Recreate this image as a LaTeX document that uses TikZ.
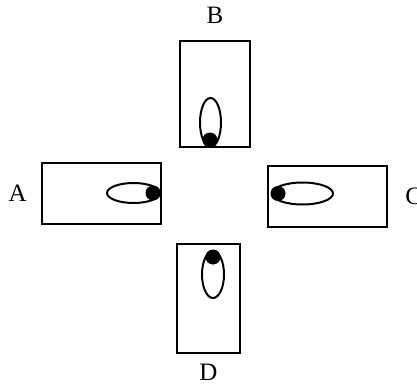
\documentclass[tikz,border=0pt]{standalone}
\usepackage{fontspec}
\setmainfont{Liberation Serif}
\usetikzlibrary{positioning,shapes.geometric}
\tikzset{
  box/.style={draw, line width=1pt, rectangle, inner sep=0pt},
  orbit/.style={draw, line width=1pt, ellipse, inner sep=0pt},
  ball/.style={fill, circle, inner sep=0pt, minimum size=7.5pt},
  tag/.style={inner sep=0pt, font=\fontsize{12.5}{14}\selectfont}
}
\begin{document}
\begin{tikzpicture}[x=0.5pt, y=-0.5pt]
  \useasboundingbox (0,0) rectangle (417,385);
  % the four boxes
  \node[box, minimum width=59.5pt, minimum height=30.5pt] (boxA) at (101.5,193.5) {};
  \node[box, minimum width=35pt, minimum height=53pt] (boxB) at (215,94) {};
  \node[box, minimum width=59.5pt, minimum height=30.5pt] (boxC) at (327.5,196.5) {};
  \node[box, minimum width=31.5pt, minimum height=54.5pt] (boxD) at (208.5,298.5) {};
  % labels
  \node[tag, left=7pt of boxA] (labA) {A};
  \node[tag, above=8pt of boxB] (labB) {B};
  \node[tag, right=8.5pt of boxC] (labC) {C};
  \node[tag, below=4.8pt of boxD] (labD) {D};
  % ellipses with their balls
  \node[orbit, minimum width=26.5pt, minimum height=10pt] (ellA) at (133.5,193) {};
  \node[ball] (ballA) at (153,193) {};
  \node[orbit, minimum width=10.5pt, minimum height=24.5pt] (ellB) at (210.5,122.5) {};
  \node[ball] (ballB) at (210,140) {};
  \node[orbit, minimum width=30.5pt, minimum height=11pt] (ellC) at (302.5,193.5) {};
  \node[ball] (ballC) at (278,193.5) {};
  \node[orbit, minimum width=11pt, minimum height=23.5pt] (ellD) at (213,274.5) {};
  \node[ball] (ballD) at (213,257) {};
\end{tikzpicture}
\end{document}
